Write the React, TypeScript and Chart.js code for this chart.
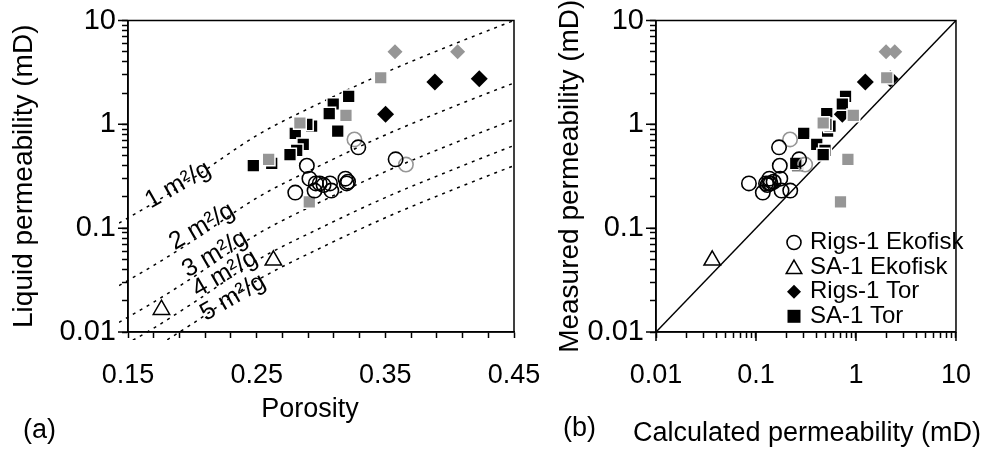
import React, { useEffect, useRef } from 'react';
import { Chart, registerables } from 'chart.js';

Chart.register(...registerables);

const FONT = "'Liberation Sans', Arial, Helvetica, sans-serif";
const GREY = '#969696';

// ---------------- data ----------------
// Rigs-1 Ekofisk (open black circles)
const rigsEkofiskPorosity = [0.329, 0.358, 0.289, 0.291, 0.28, 0.296, 0.302, 0.307, 0.308, 0.319, 0.32, 0.321, 0.295, 0.299];
const rigsEkofiskMeasured = [0.6, 0.46, 0.4, 0.3, 0.22, 0.27, 0.26, 0.27, 0.23, 0.3, 0.27, 0.28, 0.23, 0.27];
const rigsEkofiskCalculated = [0.17, 0.27, 0.173, 0.175, 0.117, 0.085, 0.13, 0.135, 0.18, 0.136, 0.14, 0.15, 0.22, 0.126];

// Rigs-1 Ekofisk, grey open circles
const rigsEkofiskGreyPorosity = [0.326, 0.366];
const rigsEkofiskGreyMeasured = [0.715, 0.41];
const rigsEkofiskGreyCalculated = [0.219, 0.31];

// SA-1 Ekofisk (open triangles)
const saEkofiskPorosity = [0.176, 0.263];
const saEkofiskMeasured = [0.0164, 0.049];
const saEkofiskCalculated = [null, 0.0365];

// Rigs-1 Tor (black diamonds)
const rigsTorPorosity = [0.3502, 0.3885, 0.423];
const rigsTorMeasured = [1.25, 2.56, 2.75];
const rigsTorCalculated = [0.73, 1.24, 2.2];

// Rigs-1 Tor, grey diamonds
const rigsTorGreyPorosity = [0.3575, 0.4062];
const rigsTorGreyMeasured = [5.0, 5.0];
const rigsTorGreyCalculated = [2.0, 2.44];

// SA-1 Tor (black squares)
const saTorPorosity = [0.3215, 0.3095, 0.3064, 0.313, 0.2927, 0.289, 0.28, 0.2862, 0.2811, 0.2759, 0.2474, 0.2617];
const saTorMeasured = [1.86, 1.57, 1.27, 0.86, 0.96, 1.0, 0.82, 0.64, 0.56, 0.51, 0.4, 0.42];
const saTorCalculated = [0.786, 0.73, 0.51, 0.52, 0.55, 0.5, 0.3, 0.405, 0.49, 0.47, 0.26, 0.25];

// SA-1 Tor, grey squares
const saTorGreyPorosity = [0.3464, 0.3194, 0.2836, 0.2593, 0.2909];
const saTorGreyMeasured = [2.81, 1.22, 1.03, 0.46, 0.179];
const saTorGreyCalculated = [2.03, 0.94, 0.47, 0.83, 0.7];

// Specific-surface reference curves (panel a)
const curvePorosity = [0.143, 0.17, 0.2, 0.25, 0.3, 0.35, 0.4, 0.45, 0.458];
const curve1 = [0.112, 0.175, 0.3, 0.78, 1.62, 3.15, 5.7, 10, 10.9];
const curve2 = [0.028, 0.0438, 0.075, 0.195, 0.405, 0.79, 1.43, 2.5, 2.72];
const curve3 = [0.0124, 0.0194, 0.0333, 0.0867, 0.18, 0.35, 0.633, 1.11, 1.21];
const curve4 = [0.007, 0.0109, 0.0188, 0.0488, 0.101, 0.197, 0.356, 0.625, 0.68];
const curve5 = [0.0045, 0.007, 0.012, 0.0312, 0.0648, 0.126, 0.228, 0.4, 0.436];
const curveLabels = ['1 m²/g', '2 m²/g', '3 m²/g', '4 m²/g', '5 m²/g'];

// 1:1 line (panel b)
const parityLine = [0.01, 10];

// tick labels and texts
const porosityTickLabels = [0.15, 0.25, 0.35, 0.45];
const permTickLabels = [0.01, 0.1, 1, 10];
const legendLabels = ['Rigs-1 Ekofisk', 'SA-1 Ekofisk', 'Rigs-1 Tor', 'SA-1 Tor'];
const titleA = { x: 'Porosity', y: 'Liquid permeability (mD)' };
const titleB = { x: 'Calculated permeability (mD)', y: 'Measured permeability (mD)' };

// ---------------- helpers ----------------
const pts = (xs: (number | null)[], ys: (number | null)[]) =>
  xs.map((x, i) => ({ x, y: ys[i] })).filter((p) => p.x != null && p.y != null);

const logTickValues = () => {
  const out: number[] = [];
  for (let e = -2; e <= 0; e++) for (let m = 1; m <= 9; m++) out.push(Number((m * Math.pow(10, e)).toPrecision(2)));
  out.push(10);
  return out;
};
const porosityTickValues = () => Array.from({ length: 16 }, (_, i) => Number((0.15 + 0.02 * i).toFixed(2)));

const styles: Record<string, any> = {
  blackCircle: { pointStyle: 'circle', pointRadius: 7.2, pointBorderWidth: 1.6, pointBorderColor: '#000', pointBackgroundColor: 'rgba(0,0,0,0)' },
  greyCircle: { pointStyle: 'circle', pointRadius: 7.2, pointBorderWidth: 1.6, pointBorderColor: GREY, pointBackgroundColor: 'rgba(0,0,0,0)' },
  triangle: { pointStyle: 'triangle', pointRadius: 9.5, pointBorderWidth: 1.5, pointBorderColor: '#000', pointBackgroundColor: 'rgba(0,0,0,0)' },
  blackDiamond: { pointStyle: 'rectRot', pointRadius: 8.5, pointBorderWidth: 0, pointBorderColor: '#000', pointBackgroundColor: '#000' },
  greyDiamond: { pointStyle: 'rectRot', pointRadius: 7.5, pointBorderWidth: 0, pointBorderColor: GREY, pointBackgroundColor: GREY },
  blackSquare: { pointStyle: 'rect', pointRadius: 9, pointBorderWidth: 1.5, pointBorderColor: '#fff', pointBackgroundColor: '#000' },
  greySquare: { pointStyle: 'rect', pointRadius: 9, pointBorderWidth: 1.5, pointBorderColor: '#fff', pointBackgroundColor: GREY },
};

const markerSet = (label: string, data: any[], style: any) => ({
  label, data, showLine: false, pointHoverRadius: style.pointRadius, ...style,
});

const tickFontY = { family: FONT, size: 29, lineHeight: 1 };
const tickFontX = { family: FONT, size: 27 };
const titleFontY = { family: FONT, size: 28 };

const gridOpts = { drawOnChartArea: false, drawTicks: true, tickLength: 6, tickWidth: 1.5, tickColor: '#000' };
const borderOpts = { display: true, color: '#000', width: 1.5 };

const logAxis = (axis: 'x' | 'y', titleText: string, titlePadding: any, fitSize: number) => ({
  type: 'logarithmic',
  position: axis === 'x' ? 'bottom' : 'left',
  min: 0.01,
  max: 10,
  afterBuildTicks: (s: any) => { s.ticks = logTickValues().map((v) => ({ value: v })); },
  afterFit: (s: any) => { if (axis === 'x') s.height = fitSize; else s.width = fitSize; },
  ticks: {
    autoSkip: false,
    maxRotation: 0,
    color: '#000',
    padding: axis === 'x' ? 21 : 6,
    font: axis === 'x' ? tickFontX : tickFontY,
    callback: (v: number) => (permTickLabels.includes(v) ? String(v) : ''),
  },
  grid: gridOpts,
  border: borderOpts,
  title: axis === 'y'
    ? { display: true, text: titleText, color: '#000', font: titleFontY, padding: titlePadding }
    : { display: false, text: titleText },
});

// ---------------- plugins ----------------
const framePlugin = {
  id: 'frame',
  afterDraw(chart: any) {
    const { ctx, chartArea: a, scales } = chart;
    ctx.save();
    ctx.strokeStyle = '#000';
    ctx.lineWidth = 1.5;
    ctx.strokeRect(a.left, a.top, a.right - a.left, a.bottom - a.top);
    ctx.beginPath();
    Object.values(scales).forEach((s: any) => {
      if (s.type !== 'logarithmic') return;
      permTickLabels.forEach((v) => {
        const p = s.getPixelForValue(v);
        if (s.isHorizontal()) { ctx.moveTo(p, a.bottom); ctx.lineTo(p, a.bottom + 9); }
        else { ctx.moveTo(a.left - 10, p); ctx.lineTo(a.left, p); }
      });
    });
    ctx.stroke();
    ctx.restore();
  },
};

// x-axis title drawn without the width limit Chart.js applies
const xTitlePlugin = (text: string, dx: number, y: number) => ({
  id: 'xTitle',
  afterDraw(chart: any) {
    const { ctx, chartArea: a } = chart;
    ctx.save();
    ctx.font = `27px ${FONT}`;
    ctx.fillStyle = '#000';
    ctx.textAlign = 'center';
    ctx.textBaseline = 'middle';
    ctx.fillText(text, (a.left + a.right) / 2 + dx, y);
    ctx.restore();
  },
});

const curveLabelPlugin = {
  id: 'curveLabels',
  afterDatasetsDraw(chart: any) {
    const { ctx, scales } = chart;
    const anchorPorosity = [0.1889, 0.2075, 0.2176, 0.2254, 0.2316];
    const anchorPerm = [0.26, 0.1037, 0.0562, 0.0363, 0.0215];
    ctx.save();
    ctx.font = `25px ${FONT}`;
    ctx.fillStyle = '#000';
    ctx.textAlign = 'center';
    ctx.textBaseline = 'middle';
    curveLabels.forEach((t, i) => {
      const px = scales.x.getPixelForValue(anchorPorosity[i]);
      const py = scales.y.getPixelForValue(anchorPerm[i]);
      ctx.save();
      ctx.translate(px, py);
      ctx.rotate((-30 * Math.PI) / 180);
      ctx.fillText(t, 0, 0);
      ctx.restore();
    });
    ctx.restore();
  },
};

function drawLegendMarker(ctx: CanvasRenderingContext2D, kind: string, x: number, y: number) {
  ctx.save();
  ctx.beginPath();
  if (kind === 'circle') {
    ctx.arc(x, y, 7, 0, Math.PI * 2);
    ctx.lineWidth = 1.6; ctx.strokeStyle = '#000'; ctx.stroke();
  } else if (kind === 'triangle') {
    const r = 9;
    const yc = y + 2;
    ctx.moveTo(x, yc - r);
    ctx.lineTo(x + r * Math.sin((2 * Math.PI) / 3), yc + r / 2);
    ctx.lineTo(x - r * Math.sin((2 * Math.PI) / 3), yc + r / 2);
    ctx.closePath();
    ctx.lineWidth = 1.5; ctx.strokeStyle = '#000'; ctx.stroke();
  } else if (kind === 'diamond') {
    const r = 7;
    ctx.moveTo(x, y - r); ctx.lineTo(x + r, y); ctx.lineTo(x, y + r); ctx.lineTo(x - r, y);
    ctx.closePath();
    ctx.fillStyle = '#000'; ctx.fill();
  } else {
    ctx.rect(x - 6.5, y - 6.5, 13, 13);
    ctx.fillStyle = '#000'; ctx.fill();
  }
  ctx.restore();
}

const legendPlugin = {
  id: 'panelLegend',
  afterDraw(chart: any) {
    const { ctx, chartArea: a } = chart;
    const kinds = ['circle', 'triangle', 'diamond', 'square'];
    ctx.save();
    ctx.font = `24px ${FONT}`;
    ctx.fillStyle = '#000';
    ctx.textAlign = 'left';
    ctx.textBaseline = 'middle';
    legendLabels.forEach((label, i) => {
      const y = a.top + 222 + i * 24.6;
      drawLegendMarker(ctx, kinds[i], a.left + 138, y);
      ctx.fillText(label, a.left + 154, y);
    });
    ctx.restore();
  },
};

// ---------------- chart configs ----------------
const curveSet = (label: string, values: number[]) => ({
  label,
  data: pts(curvePorosity, values),
  showLine: true,
  pointRadius: 0,
  borderColor: '#000',
  borderWidth: 1.5,
  borderDash: [3, 5],
  cubicInterpolationMode: 'monotone',
  clip: { left: 9, top: 5, right: 12, bottom: 8 },
});

const configA = (): any => ({
  type: 'scatter',
  data: {
    datasets: [
      markerSet('Rigs-1 Tor (grey)', pts(rigsTorGreyPorosity, rigsTorGreyMeasured), styles.greyDiamond),
      markerSet('Rigs-1 Ekofisk', pts(rigsEkofiskPorosity, rigsEkofiskMeasured), styles.blackCircle),
      markerSet('Rigs-1 Ekofisk (grey)', pts(rigsEkofiskGreyPorosity, rigsEkofiskGreyMeasured), styles.greyCircle),
      markerSet('SA-1 Tor (grey)', pts(saTorGreyPorosity, saTorGreyMeasured), styles.greySquare),
      markerSet('SA-1 Tor', pts(saTorPorosity, saTorMeasured), styles.blackSquare),
      markerSet('Rigs-1 Tor', pts(rigsTorPorosity, rigsTorMeasured), styles.blackDiamond),
      markerSet('SA-1 Ekofisk', pts(saEkofiskPorosity, saEkofiskMeasured), styles.triangle),
      curveSet(curveLabels[0], curve1),
      curveSet(curveLabels[1], curve2),
      curveSet(curveLabels[2], curve3),
      curveSet(curveLabels[3], curve4),
      curveSet(curveLabels[4], curve5),
    ],
  },
  options: {
    responsive: false,
    animation: false,
    events: [],
    layout: { padding: { left: 0, top: 16, right: 992 - 514, bottom: 0 } },
    plugins: { legend: { display: false }, tooltip: { enabled: false } },
    scales: {
      x: {
        type: 'linear',
        position: 'bottom',
        min: 0.15,
        max: 0.45,
        afterBuildTicks: (s: any) => { s.ticks = porosityTickValues().map((v) => ({ value: v })); },
        afterFit: (s: any) => { s.height = 118; },
        ticks: {
          autoSkip: false,
          maxRotation: 0,
          color: '#000',
          padding: 21,
          font: tickFontX,
          callback: (v: number) => (porosityTickLabels.some((t) => Math.abs(t - v) < 1e-6) ? v.toFixed(2) : ''),
        },
        grid: gridOpts,
        border: borderOpts,
        title: { display: false, text: titleA.x },
      },
      y: logAxis('y', titleA.y, { top: 7, bottom: 0 }, 128),
    },
  },
  plugins: [framePlugin, curveLabelPlugin, xTitlePlugin(titleA.x, -11, 410)],
});

const configB = (): any => ({
  type: 'scatter',
  data: {
    datasets: [
      markerSet('Rigs-1 Tor (grey)', pts(rigsTorGreyCalculated, rigsTorGreyMeasured), styles.greyDiamond),
      markerSet('Rigs-1 Ekofisk', pts(rigsEkofiskCalculated, rigsEkofiskMeasured), styles.blackCircle),
      markerSet('Rigs-1 Ekofisk (grey)', pts(rigsEkofiskGreyCalculated, rigsEkofiskGreyMeasured), styles.greyCircle),
      markerSet('SA-1 Tor (grey)', pts(saTorGreyCalculated, saTorGreyMeasured), styles.greySquare),
      markerSet('SA-1 Tor', pts(saTorCalculated, saTorMeasured), styles.blackSquare),
      markerSet('Rigs-1 Tor', pts(rigsTorCalculated, rigsTorMeasured), styles.blackDiamond),
      markerSet('SA-1 Ekofisk', pts(saEkofiskCalculated, saEkofiskMeasured), styles.triangle),
      {
        label: '1:1',
        data: pts(parityLine, parityLine),
        showLine: true,
        pointRadius: 0,
        borderColor: '#000',
        borderWidth: 1.5,
      },
    ],
  },
  options: {
    responsive: false,
    animation: false,
    events: [],
    layout: { padding: { left: 548, top: 16, right: 21, bottom: 0 } },
    plugins: { legend: { display: false }, tooltip: { enabled: false } },
    scales: {
      x: logAxis('x', titleB.x, { top: 0, bottom: 0 }, 118),
      y: logAxis('y', titleB.y, { top: 5, bottom: 0 }, 108),
    },
  },
  plugins: [framePlugin, legendPlugin, xTitlePlugin(titleB.x, 1, 434)],
});

function ChartLayer({ makeConfig }: { makeConfig: () => any }) {
  const ref = useRef<HTMLCanvasElement>(null);
  useEffect(() => {
    const chart = new Chart(ref.current as HTMLCanvasElement, makeConfig());
    return () => chart.destroy();
  }, [makeConfig]);
  return (
    <canvas
      ref={ref}
      width={992}
      height={450}
      style={{ position: 'absolute', left: 0, top: 0, width: 992, height: 450 }}
    />
  );
}

const panelTagStyle: React.CSSProperties = {
  position: 'absolute',
  fontFamily: FONT,
  fontSize: 27,
  lineHeight: '32px',
  color: '#000',
};

export default function App() {
  return (
    <div style={{ position: 'fixed', left: 0, top: 0, width: 992, height: 450, background: '#fff', overflow: 'hidden' }}>
      <ChartLayer makeConfig={configA} />
      <ChartLayer makeConfig={configB} />
      <div style={{ ...panelTagStyle, left: 23, top: 413 }}>(a)</div>
      <div style={{ ...panelTagStyle, left: 563, top: 411 }}>(b)</div>
    </div>
  );
}
